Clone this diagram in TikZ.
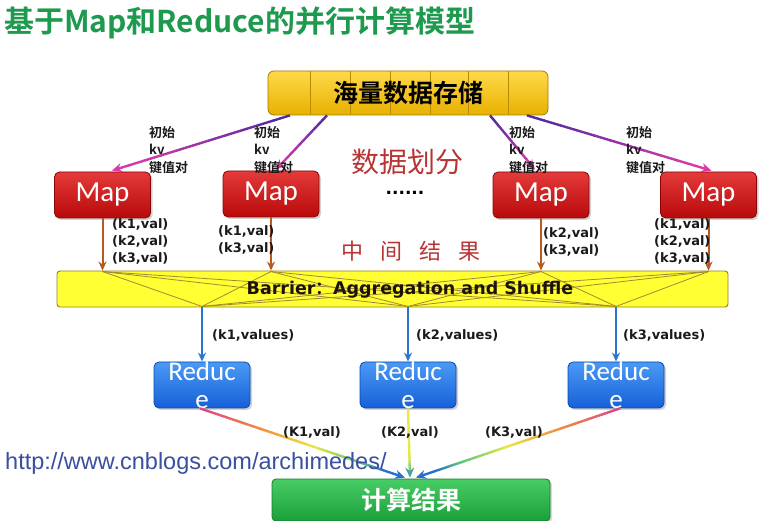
\documentclass[tikz,border=0pt]{standalone}
\usepackage{fontspec}
\usetikzlibrary{arrows.meta,calc,shadows}
\newfontfamily\cjk{Noto Sans CJK SC}[BoldFont={Noto Sans CJK SC Bold}]
\newfontfamily\carl{Carlito}
\newfontfamily\dvs{DejaVu Sans}
\newfontfamily\libs{Liberation Sans}
\definecolor{titlegreen}{HTML}{1E9A4E}
\definecolor{storetop}{HTML}{FFD94A}
\definecolor{storebot}{HTML}{E8B000}
\definecolor{storeedge}{HTML}{A07C00}
\definecolor{storeline}{HTML}{B88A00}
\definecolor{maptop}{HTML}{E43A3A}
\definecolor{mapbot}{HTML}{B80A0A}
\definecolor{mapedge}{HTML}{8A0606}
\definecolor{redtop}{HTML}{4A9AF5}
\definecolor{redbot}{HTML}{1660D8}
\definecolor{rededge}{HTML}{0D4AA8}
\definecolor{restop}{HTML}{48CC66}
\definecolor{resbot}{HTML}{1AA03A}
\definecolor{resedge}{HTML}{147A2C}
\definecolor{barfill}{HTML}{FFFF33}
\definecolor{baredge}{HTML}{9A7A20}
\definecolor{mesh}{HTML}{A08A30}
\definecolor{brownarr}{HTML}{B85A20}
\definecolor{bluearr}{HTML}{2878D0}
\definecolor{cVio}{HTML}{4A2AA0}
\definecolor{cMagP}{HTML}{D83AA8}
\definecolor{cMag}{HTML}{E0408A}
\definecolor{cOra}{HTML}{F08C3C}
\definecolor{cYel}{HTML}{E8E840}
\definecolor{cGrn}{HTML}{5AC878}
\definecolor{cBlu}{HTML}{2A6ED2}
\definecolor{redtext}{HTML}{B83434}
\definecolor{urlblue}{HTML}{3A4FA0}
\definecolor{lbl}{HTML}{1A1A1A}
\def\gradw{2.4pt}
\newcommand\gradseg[6]{%
  \foreach \gk in {0,...,9}{%
    \pgfmathsetmacro\gsA{#3+(#4-#3)*\gk/10}%
    \pgfmathsetmacro\gsB{#3+(#4-#3)*(\gk+1.05)/10}%
    \pgfmathtruncatemacro\gsP{\gk*10+5}%
    \draw[line width=\gradw, color=#6!\gsP!#5] ($(#1)!\gsA!(#2)$) -- ($(#1)!\gsB!(#2)$);%
  }}
\newcommand\gradtip[3]{%
  \draw[-{Stealth[length=10pt,width=9pt]}, line width=\gradw, color=#3] ($(#1)!0.9!(#2)$) -- (#2);}
\begin{document}
\begin{tikzpicture}[x=1pt,y=-1pt,
  mapbox/.style={draw=mapedge, line width=0.8pt, rounded corners=5pt, top color=maptop, bottom color=mapbot,
    minimum width=96pt, minimum height=46pt, inner sep=0pt,
    drop shadow={opacity=0.35,shadow xshift=2pt,shadow yshift=-2pt},
    text=white, font=\carl\fontsize{29}{30}\selectfont},
  redbox/.style={draw=rededge, line width=0.8pt, rounded corners=5pt, top color=redtop, bottom color=redbot,
    minimum width=96pt, minimum height=46pt, inner sep=0pt,
    drop shadow={opacity=0.35,shadow xshift=2pt,shadow yshift=-2pt}},
  redtxt/.style={text=white, font=\carl\fontsize{27}{28}\selectfont, inner sep=0pt, anchor=north, align=center},
  kvlbl/.style={anchor=north west, align=left, inner sep=0pt, text=lbl, font=\cjk\bfseries\fontsize{13}{17.5}\selectfont},
  vallbl/.style={anchor=north west, align=left, inner sep=0pt, text=lbl, font=\dvs\bfseries\fontsize{13}{17}\selectfont},
  brownarrow/.style={draw=brownarr, line width=2pt, -{Stealth[length=9pt,width=8pt]}},
  bluearrow/.style={draw=bluearr, line width=2pt, -{Stealth[length=9pt,width=8pt]}},
  meshline/.style={draw=mesh, line width=0.8pt}
]
\useasboundingbox (0,0) rectangle (769,521);
\fill[white] (0,0) rectangle (769,521);

% title
\node[anchor=west, inner sep=0pt, text=titlegreen, font=\cjk\bfseries\fontsize{30}{32}\selectfont] (title) at (4,23) {基于Map和Reduce的并行计算模型};

% storage
\node[draw=storeedge, line width=0.8pt, rounded corners=6pt, top color=storetop, bottom color=storebot,
  minimum width=280pt, minimum height=44pt, inner sep=0pt] (store) at (408,93) {};
\foreach \xx in {310,350,390,430,468,508} \draw[color=storeline, line width=0.7pt] (\xx,71.5) -- (\xx,114.5);
\node[font=\cjk\bfseries\fontsize{25}{26}\selectfont, text=black] (storetxt) at (store.center) {海量数据存储};

% maps and reduces
\node[mapbox] (m1) at (102.5,195) {Map};
\node[mapbox] (m2) at (271,194) {Map};
\node[mapbox] (m3) at (541,195) {Map};
\node[mapbox] (m4) at (708.5,195) {Map};

\node[redbox] (r1) at (202,385) {};
\node[redbox] (r2) at (408,385) {};
\node[redbox] (r3) at (616,385) {};
\node[redtxt] (r1t) at (202,362) {Reduc\\e};
\node[redtxt] (r2t) at (408,362) {Reduc\\e};
\node[redtxt] (r3t) at (616,362) {Reduc\\e};

% barrier
\node[draw=baredge, line width=0.9pt, rounded corners=3pt, fill=barfill, minimum width=671pt, minimum height=36pt, inner sep=0pt] (barrier) at (392.5,289) {};
\foreach \m in {m1,m2,m3,m4}{
  \coordinate (t\m) at (\m.south |- barrier.north);
}
\foreach \r in {r1,r2,r3}{
  \coordinate (b\r) at (\r.north |- barrier.south);
}
\foreach \m in {m1,m2,m3,m4}{
  \foreach \r in {r1,r2,r3}{
    \draw[meshline] ($(t\m)+(0,1)$) -- ($(b\r)+(0,-1)$);
  }
}
\node[font=\dvs\bfseries\fontsize{17.5}{19}\selectfont, text=black!85!brown] (bartxt) at (410,290) {Barrier{\cjk\bfseries ：}Aggregation and Shuffle};

% storage -> map arrows
\coordinate (s1) at ($(store.south)+(-118,0)$);
\coordinate (s2) at ($(store.south)+(-81,0)$);
\coordinate (s3) at ($(store.south)+(82,0)$);
\coordinate (s4) at ($(store.south)+(119,0)$);
\coordinate (e1) at ($(m1.north)+(9.5,-1)$);
\coordinate (e2) at ($(m2.north)+(5,-1)$);
\coordinate (e3) at ($(m3.north)+(-6,-2)$);
\coordinate (e4) at ($(m4.north)+(3,-1)$);
\foreach \i in {1,2,3,4}{
  \gradseg{s\i}{e\i}{0}{0.9}{cVio}{cMagP}
  \gradtip{s\i}{e\i}{cMagP}
}
\node[kvlbl] (kv1) at (149,126) {初始\\kv\\键值对};
\node[kvlbl] (kv2) at (254,126) {初始\\kv\\键值对};
\node[kvlbl] (kv3) at (509,126) {初始\\kv\\键值对};
\node[kvlbl] (kv4) at (626,126) {初始\\kv\\键值对};

% map -> barrier
\foreach \m in {m1,m2,m3,m4}{
  \draw[brownarrow] (\m.south) -- (t\m);
}
\node[vallbl] (v1) at (112,218) {(k1,val)\\(k2,val)\\(k3,val)};
\node[vallbl] (v2) at (218,225) {(k1,val)\\(k3,val)};
\node[vallbl] (v3) at (543,227) {(k2,val)\\(k3,val)};
\node[vallbl] (v4) at (654,218) {(k1,val)\\(k2,val)\\(k3,val)};

% barrier -> reduce
\foreach \r in {r1,r2,r3}{
  \draw[bluearrow] (b\r) -- (\r.north);
}
\node[vallbl, anchor=west] (w1) at (212,335) {(k1,values)};
\node[vallbl, anchor=west] (w2) at (416,335) {(k2,values)};
\node[vallbl, anchor=west] (w3) at (623,335) {(k3,values)};

% result
\node[draw=resedge, line width=0.8pt, rounded corners=4pt, top color=restop, bottom color=resbot,
  minimum width=278pt, minimum height=42pt, inner sep=0pt,
  drop shadow={opacity=0.3,shadow xshift=2pt,shadow yshift=-2pt},
  text=white, font=\cjk\bfseries\fontsize{25}{26}\selectfont] (res) at (411,500) {计算结果};

\coordinate (f1) at ($(r1.south)+(-2,0)$);
\coordinate (f2) at (r2.south);
\coordinate (f3) at ($(r3.south)+(4,0)$);
\coordinate (g1) at ($(res.north)+(-6,-1)$);
\coordinate (g2) at ($(res.north)+(-1,-1)$);
\coordinate (g3) at ($(res.north)+(5,-1)$);
\foreach \i in {1,3}{
  \gradseg{f\i}{g\i}{0}{0.3}{cMag}{cOra}
  \gradseg{f\i}{g\i}{0.3}{0.55}{cOra}{cYel}
  \gradseg{f\i}{g\i}{0.55}{0.78}{cYel}{cGrn}
  \gradseg{f\i}{g\i}{0.78}{0.9}{cGrn}{cBlu}
  \gradtip{f\i}{g\i}{cBlu}
}
\gradseg{f2}{g2}{0}{0.7}{cYel}{cYel}
\gradseg{f2}{g2}{0.7}{0.9}{cYel}{cGrn}
\gradtip{f2}{g2}{cGrn!60!cBlu}

\node[vallbl, anchor=center] (k1l) at (312,432) {(K1,val)};
\node[vallbl, anchor=center] (k2l) at (410,432) {(K2,val)};
\node[vallbl, anchor=center] (k3l) at (514,432) {(K3,val)};

% url and captions
\node[anchor=west, inner sep=0pt, text=urlblue, font=\libs\fontsize{23.5}{25}\selectfont] (url) at (5,463) {http://www.cnblogs.com/archimedes/};
\node[text=redtext, font=\cjk\fontsize{28}{30}\selectfont] (split) at (407,162) {数据划分};
\node[text=black, font=\dvs\bfseries\fontsize{17}{19}\selectfont] (dots) at (405,193) {......};
\node[text=redtext, font=\cjk\fontsize{22}{24}\selectfont] (mid) at (411,251) {中\hspace{17pt}间\hspace{17pt}结\hspace{17pt}果};
\end{tikzpicture}
\end{document}
